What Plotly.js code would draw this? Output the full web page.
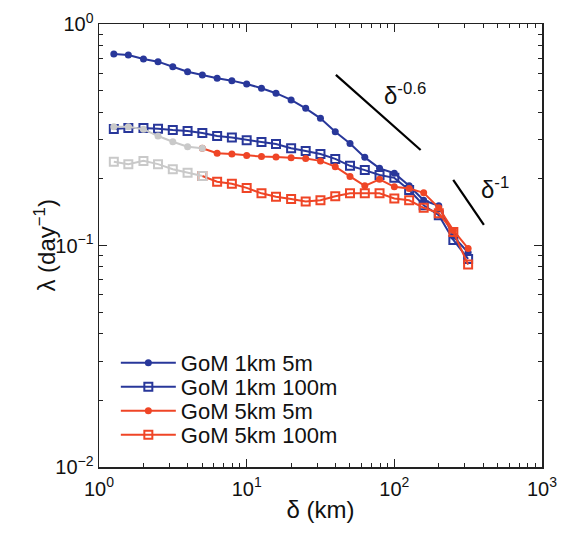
<!DOCTYPE html>
<html><head><meta charset="utf-8">
<script src="https://cdn.plot.ly/plotly-3.0.1.min.js"></script>
<style>html,body{margin:0;padding:0;background:#fff;} #chart{width:561px;height:541px;}</style>
</head><body><div id="chart"></div>
<script>
// separation distance delta (km)
const delta = [1.26, 1.58, 2.0, 2.51, 3.16, 3.98, 5.01, 6.31, 7.94, 10, 12.6, 15.8, 20, 25.1, 31.6, 39.8, 50.1, 63.1, 79.4, 100, 126, 158, 200, 251, 316];
// FSLE lambda (day^-1)
const gom1km5m   = [0.732, 0.725, 0.695, 0.676, 0.641, 0.609, 0.589, 0.569, 0.555, 0.536, 0.513, 0.487, 0.454, 0.416, 0.375, 0.326, 0.289, 0.250, 0.223, 0.212, 0.186, 0.160, 0.151, 0.110, 0.093];
const gom1km100m = [0.336, 0.339, 0.339, 0.337, 0.332, 0.329, 0.322, 0.312, 0.307, 0.299, 0.293, 0.287, 0.275, 0.267, 0.259, 0.246, 0.229, 0.219, 0.208, 0.202, 0.178, 0.152, 0.137, 0.106, 0.087];
const gom5km5m   = [0.344, 0.344, 0.335, 0.312, 0.294, 0.279, 0.275, 0.261, 0.259, 0.255, 0.252, 0.251, 0.249, 0.247, 0.241, 0.227, 0.205, 0.186, 0.199, 0.184, 0.181, 0.173, 0.148, 0.117, 0.097];
const gom5km100m = [0.239, 0.233, 0.241, 0.233, 0.221, 0.213, 0.206, 0.194, 0.190, 0.182, 0.172, 0.166, 0.162, 0.158, 0.160, 0.167, 0.172, 0.172, 0.172, 0.163, 0.160, 0.148, 0.140, 0.115, 0.082];
// number of points below the 5 km grid scale (drawn in gray)
const nSubGrid = 7;
// reference slopes
const slope06X = [40.2, 150.7], slope06Y = [0.589, 0.270];
const slope1X  = [250.5, 404],  slope1Y  = [0.198, 0.124];
// tick labels
const xTickVals = [1, 10, 100, 1000];
const xTickText = ['10<sup>0</sup>', '10<sup>1</sup>', '10<sup>2</sup>', '10<sup>3</sup>'];
const yTickVals = [0.01, 0.1, 1];
const yTickText = ['10<sup>\u22122</sup>', '10<sup>\u22121</sup>', '10<sup>0</sup>'];

const BLUE = '#28379a', RED = '#ef4526', GRAY = '#c9c9c9';
const FONT = 'Liberation Sans, Arial, Helvetica, sans-serif';

function minorVals(lo, hi) {
  const v = [];
  for (let d = lo; d < hi; d++) for (let m = 2; m <= 9; m++) v.push(m * Math.pow(10, d));
  return v;
}

const circ = (c) => ({symbol: 'circle', size: 7, color: c});
const sq = (c) => ({symbol: 'square-open', size: 8, color: c, line: {color: c, width: 2}});
const ln = (c) => ({color: c, width: 2});

const traces = [
  {x: delta, y: gom1km5m, mode: 'lines+markers', name: 'GoM 1km 5m', legend: 'legend', line: ln(BLUE), marker: circ(BLUE)},
  {x: delta, y: gom1km100m, mode: 'lines+markers', name: 'GoM 1km 100m', legend: 'legend2', line: ln(BLUE), marker: sq(BLUE)},
  {x: delta.slice(nSubGrid - 1), y: gom5km5m.slice(nSubGrid - 1), mode: 'lines+markers', name: 'GoM 5km 5m', legend: 'legend3', line: ln(RED), marker: circ(RED)},
  {x: delta.slice(nSubGrid - 1), y: gom5km100m.slice(nSubGrid - 1), mode: 'lines+markers', name: 'GoM 5km 100m', legend: 'legend4', line: ln(RED), marker: sq(RED)},
  {x: delta.slice(0, nSubGrid), y: gom5km5m.slice(0, nSubGrid), mode: 'lines+markers', showlegend: false, line: ln(GRAY), marker: circ(GRAY)},
  {x: delta.slice(0, nSubGrid), y: gom5km100m.slice(0, nSubGrid), mode: 'lines+markers', showlegend: false, line: ln(GRAY), marker: sq(GRAY)},
  {x: slope06X, y: slope06Y, mode: 'lines', showlegend: false, line: {color: '#000', width: 2.2}},
  {x: slope1X, y: slope1Y, mode: 'lines', showlegend: false, line: {color: '#000', width: 2.2}}
];

const axisCommon = {
  type: 'log', showgrid: false, zeroline: false,
  showline: true, linecolor: '#222', linewidth: 1.5, mirror: 'ticks',
  ticks: 'inside', ticklen: 8, tickwidth: 1, tickcolor: '#222',
  tickmode: 'array',
  tickfont: {family: FONT, size: 20, color: '#111'}
};

function legendAt(yc) {
  return {
    x: 0.038, y: yc, xanchor: 'left', yanchor: 'middle',
    bgcolor: 'rgba(255,255,255,0)', borderwidth: 0, itemwidth: 55,
    font: {family: FONT, size: 22, color: '#111'}
  };
}

const layout = {
  width: 561, height: 541,
  margin: {l: 99, r: 19, t: 24, b: 74},
  paper_bgcolor: '#fff', plot_bgcolor: '#fff',
  font: {family: FONT, color: '#111'},
  xaxis: Object.assign({}, axisCommon, {
    range: [0, 3], tickvals: xTickVals, ticktext: xTickText,
    minor: {tickmode: 'array', tickvals: minorVals(0, 3), ticks: 'inside', ticklen: 4, tickcolor: '#222', showgrid: false},
    ticklabelstandoff: 3,
    title: {text: '\u03b4 (km)', font: {family: FONT, size: 24, color: '#111'}, standoff: 2}
  }),
  yaxis: Object.assign({}, axisCommon, {
    range: [-2, 0], tickvals: yTickVals, ticktext: yTickText,
    minor: {tickmode: 'array', tickvals: minorVals(-2, 0), ticks: 'inside', ticklen: 4, tickcolor: '#222', showgrid: false},
    ticklabelstandoff: 0
  }),
  legend: legendAt(0.2348),
  legend2: legendAt(0.1806),
  legend3: legendAt(0.1264),
  legend4: legendAt(0.0722),
  annotations: [
    {xref: 'paper', yref: 'paper', x: -0.124, y: 0.5, xanchor: 'center', yanchor: 'middle', textangle: -90,
     text: '\u03bb (day<sup>\u22121</sup>)', showarrow: false, font: {family: FONT, size: 24, color: '#111'}},
    {xref: 'paper', yref: 'paper', x: 0.743, y: 0.88, text: '\u03b4<sup>-0.6</sup>', showarrow: false, font: {family: FONT, size: 24, color: '#111'}},
    {xref: 'paper', yref: 'paper', x: 0.929, y: 0.63, text: '\u03b4<sup>-1</sup>', showarrow: false, font: {family: FONT, size: 24, color: '#111'}}
  ],
  showlegend: true
};

Plotly.newPlot('chart', traces, layout, {displayModeBar: false, staticPlot: true});
</script>
</body></html>
